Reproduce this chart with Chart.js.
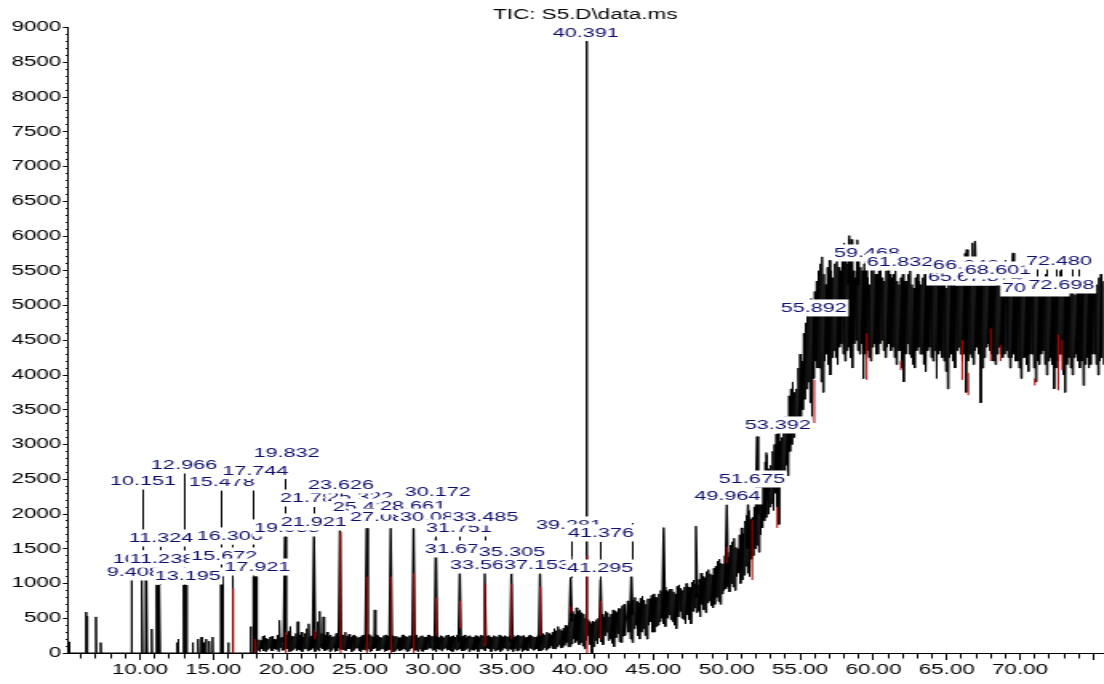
<!DOCTYPE html>
<html>
<head>
<meta charset="utf-8">
<title>TIC: S5.D\data.ms</title>
<script src="https://cdn.jsdelivr.net/npm/chart.js@4.4.1/dist/chart.umd.min.js"></script>
<style>
  html, body { margin: 0; padding: 0; background: #fff; overflow: hidden; }
</style>
</head>
<body>
<!-- the export is stretched sideways, so draw narrow and widen with css -->
<canvas id="tic" width="690" height="684" style="width:1104px;height:684px;"></canvas>
<script>
// early part: isolated spikes on a zero baseline (minutes, abundance)
var earlyTimes   = [5.15, 6.32, 6.40, 7.00, 7.32, 9.43, 10.09, 10.16, 10.40, 10.47, 10.80,
                    11.13, 11.18, 11.24, 11.30, 11.36, 12.54, 12.62, 12.98, 13.05, 13.18,
                    13.60, 13.96, 14.20, 14.36, 14.50, 14.72, 14.95, 15.52, 15.60, 15.67,
                    16.02, 16.32, 17.55, 17.72, 17.84, 17.95];
var earlyHeights = [160, 590, 530, 520, 150, 1050, 1050, 1050, 1050, 1050, 345,
                    980, 980, 980, 980, 980, 150, 200, 980, 980, 980,
                    150, 200, 230, 150, 200, 170, 230, 1150, 1120, 1100,
                    150, 1080, 380, 1100, 1100, 1100];

// low noisy baseline 18.000 - 43.000 min, one high/low pair every 0.125 min
var baseStart = 18.0, baseStep = 0.125;
var baseHigh = [
  220, 190, 180, 240, 250, 210, 200, 230,   // 18
  240, 200, 190, 260, 470, 220, 230, 250,   // 19
  260, 310, 380, 240, 240, 280, 450, 260,   // 20
  300, 230, 280, 350, 420, 240, 250, 300,   // 21
  230, 450, 600, 280, 520, 260, 300, 240,   // 22
  260, 230, 240, 280, 280, 250, 220, 260,   // 23
  300, 240, 270, 230, 250, 260, 240, 220,   // 24
  230, 250, 260, 240, 240, 270, 250, 230,   // 25
  620, 260, 240, 230, 220, 250, 260, 240,   // 26
  230, 250, 250, 240, 240, 220, 220, 260,   // 27
  260, 240, 230, 250, 250, 230, 240, 260,   // 28
  220, 240, 250, 230, 230, 260, 260, 240,   // 29
  240, 250, 230, 220, 250, 240, 220, 250,   // 30
  260, 230, 240, 250, 230, 260, 250, 230,   // 31
  240, 260, 220, 240, 250, 230, 230, 250,   // 32
  240, 220, 260, 250, 230, 240, 250, 230,   // 33
  220, 250, 240, 230, 260, 240, 230, 250,   // 34
  240, 230, 250, 260, 230, 240, 260, 250,   // 35
  240, 250, 220, 230, 250, 260, 240, 230,   // 36
  230, 250, 260, 240, 280, 260, 300, 280,   // 37
  260, 300, 350, 320, 380, 340, 320, 360,   // 38
  400, 380, 450, 500, 600, 560, 650, 600,   // 39
  620, 580, 560, 500, 480, 450, 420, 460,   // 40
  450, 480, 500, 540, 560, 520, 600, 580,   // 41
  520, 560, 620, 600, 580, 640, 640, 680,   // 42
  700];
var baseLow = [
  40, 20, 60, 30, 20, 50, 70, 30,
  30, 60, 50, 20, 80, 40, 40, 60,
  60, 20, 30, 50, 70, 30, 50, 40,
  20, 60, 60, 30, 40, 50, 70, 20,
  50, 30, 80, 60, 30, 40, 60, 20,
  40, 70, 20, 30, 70, 50, 50, 40,
  30, 60, 60, 20, 40, 70, 70, 30,
  20, 50, 50, 30, 60, 20, 30, 60,
  70, 30, 40, 60, 60, 20, 30, 50,
  50, 20, 20, 40, 60, 30, 40, 60,
  50, 20, 30, 60, 70, 40, 40, 20,
  60, 30, 20, 50, 50, 70, 70, 40,
  40, 20, 60, 50, 30, 60, 70, 40,
  50, 30, 20, 60, 40, 50, 60, 30,
  30, 50, 70, 20, 50, 40, 40, 60,
  20, 60, 60, 40, 30, 70, 60, 20,
  60, 30, 40, 50, 20, 40, 70, 60,
  30, 60, 50, 20, 60, 30, 40, 70,
  20, 40, 50, 30, 70, 60, 40, 50,
  60, 30, 30, 50, 80, 40, 60, 70,
  100, 60, 60, 90, 120, 70, 80, 110,
  150, 90, 90, 130, 200, 150, 180, 120,
  150, 100, 60, 180, 250, 120, 0, 90,
  180, 130, 220, 160, 120, 250, 300, 180,
  200, 140, 90, 220, 280, 160, 150, 240,
  250];

// rising hump and plateau 43.250 - 75.750 min, one high/low pair every 0.125 min
var riseStart = 43.25, riseStep = 0.125;
var riseHigh = [
  750, 700, 680, 760, 800, 740, 720, 790,           // 43.25
  820, 760, 700, 780, 780, 830, 850, 800,           // 44.25
  800, 850, 900, 870, 950, 900, 880, 920,           // 45.25
  920, 880, 850, 960, 980, 930, 900, 950,           // 46.25
  1000, 950, 940, 1020, 1050, 990, 980, 1060,       // 47.25
  1150, 1100, 1080, 1170, 1200, 1140, 1120, 1220,   // 48.25
  1250, 1320, 1350, 1290, 1280, 1400, 1450, 1380,   // 49.25
  1550, 1600, 1650, 1520, 1500, 1700, 1800, 1720,   // 50.25
  1900, 1980, 2050, 1920, 1950, 2100, 2150, 2250,   // 51.25
  2400, 2500, 2600, 2750, 2850, 2650, 2700, 2900,   // 52.25
  3000, 3150, 3200, 3050, 3100, 3300, 3400, 3350,   // 53.25
  3700, 3800, 3900, 3750, 3800, 4100, 4300, 4200,   // 54.25
  4600, 4750, 4900, 5000, 5100, 5050, 5200, 5350,   // 55.25
  5500, 5600, 5700, 5450, 5300, 5550, 5650, 5500,   // 56.25
  5400, 5600, 5750, 5550, 5500, 5700, 5900, 5650,   // 57.25
  5600, 5800, 5950, 5500, 5400, 5650, 5700, 5550,   // 58.25
  5500, 5600, 5650, 5400, 5300, 5550, 5600, 5450,   // 59.25
  5450, 5500, 5550, 5400, 5350, 5500, 5600, 5450,   // 60.25
  5400, 5450, 5500, 5350, 5300, 5400, 5450, 5350,   // 61.25
  5350, 5450, 5500, 5300, 5250, 5400, 5450, 5350,   // 62.25
  5300, 5400, 5450, 5350, 5350, 5300, 5400, 5450,   // 63.25
  5450, 5350, 5300, 5400, 5400, 5300, 5250, 5350,   // 64.25
  5400, 5300, 5350, 5450, 5500, 5400, 5300, 5350,   // 65.25
  5750, 5500, 5450, 5600, 5900, 5550, 5400, 5450,   // 66.25
  5350, 5450, 5500, 5350, 5300, 5400, 5400, 5300,   // 67.25
  5450, 5350, 5300, 5400, 5400, 5500, 5650, 5400,   // 68.25
  5300, 5250, 5250, 5350, 5350, 5250, 5200, 5300,   // 69.25
  5250, 5200, 5150, 5250, 5300, 5200, 5200, 5250,   // 70.25
  5350, 5250, 5200, 5300, 5450, 5300, 5250, 5200,   // 71.25
  5400, 5300, 5200, 5350, 5500, 5300, 5250, 5350,   // 72.25
  5200, 5300, 5350, 5200, 5150, 5250, 5300, 5200,   // 73.25
  5250, 5300, 5350, 5250, 5200, 5300, 5400, 5300,   // 74.25
  5300, 5400, 5450, 5350, 5300];                    // 75.25
var riseLow = [
  300, 200, 150, 350, 400, 250, 200, 300,
  350, 250, 200, 400, 450, 300, 300, 380,
  400, 450, 500, 420, 380, 500, 550, 480,
  450, 400, 350, 520, 600, 500, 480, 420,
  550, 480, 420, 600, 650, 580, 600, 520,
  700, 620, 580, 720, 750, 680, 650, 700,
  800, 740, 700, 850, 900, 920, 950, 880,
  1000, 950, 900, 1100, 1150, 1000, 1050, 1120,
  1250, 1150, 1100, 1350, 1400, 1500, 1550, 1450,
  1700, 1800, 1900, 1950, 2000, 2100, 2150, 2050,
  2300, 2100, 1850, 2400, 2500, 2600, 2700, 2550,
  2900, 3000, 3100, 3200, 3300, 3250, 3400, 3500,
  3650, 3800, 3900, 3600, 3350, 3950, 4200, 4100,
  4100, 3900, 3750, 4200, 4300, 4150, 4000, 4250,
  4350, 4250, 4150, 4400, 4450, 4300, 4200, 4350,
  4400, 4250, 4100, 4450, 4500, 4350, 4300, 4450,
  3950, 4300, 4350, 4250, 4200, 4400, 4450, 4300,
  4300, 4450, 4500, 4350, 4250, 4400, 4450, 4350,
  4400, 4250, 4150, 4350, 4350, 4100, 3900, 4300,
  4450, 4300, 4250, 4150, 4100, 4350, 4400, 4300,
  4300, 4150, 4050, 4350, 4400, 4250, 4200, 4350,
  3950, 4300, 4350, 4250, 4200, 4050, 3800, 4250,
  4300, 4200, 4100, 4350, 4400, 4300, 4200, 4300,
  3750, 4200, 4300, 4250, 4150, 4350, 4400, 4300,
  3600, 4100, 4250, 4400, 4450, 4350, 4300, 4200,
  4150, 4300, 4400, 4300, 4250, 4300, 4350, 4250,
  4100, 4250, 4300, 4200, 4200, 4100, 3950, 4250,
  4250, 4150, 4050, 4300, 4300, 4100, 3900, 4200,
  4150, 4300, 4350, 4150, 4000, 4200, 4250, 4150,
  3800, 4100, 4200, 4300, 4300, 4000, 3750, 4150,
  4250, 4100, 4000, 4250, 4300, 4200, 4100, 4200,
  3850, 4150, 4250, 4100, 4150, 4300, 4300, 4150,
  4000, 4200, 4250, 4150, 4100];

// peaks standing on the baseline
var peakTimes = [19.88, 21.86, 23.63, 25.45, 27.09, 28.65, 30.17, 31.80, 33.50, 35.32, 37.27,
                 39.36, 40.44, 41.40, 43.50, 45.70, 47.90, 50.00, 51.45, 52.06, 52.70,
                 58.35, 58.90, 66.35, 66.92, 69.50];
var peakTops  = [1670, 1700, 1770, 1790, 1790, 1790, 1650, 1150, 1150, 1140, 1140,
                 1080, 8800, 1050, 1150, 1800, 1820, 2130, 2140, 3110, 2880,
                 6000, 5940, 5800, 5920, 5750];
var peakFeet  = [150, 150, 150, 150, 150, 150, 150, 150, 150, 150, 150,
                 450, 350, 350, 550, 700, 800, 1150, 1500, 2000, 2200,
                 5300, 5300, 5300, 5300, 5200];

// red integration marks
var markTimes = [16.35, 17.84, 19.95, 21.93, 23.68, 25.47, 27.11, 28.67, 30.20, 31.82,
                 33.52, 35.33, 37.29, 39.38, 40.48, 41.38, 50.00, 51.74, 53.44, 55.97,
                 59.54, 61.87, 66.05, 66.46, 68.00, 68.67, 71.00, 72.60, 72.87];
var markFrom  = [0, 0, 0, 200, 0, 0, 0, 0, 250, 350,
                 100, 200, 250, 575, 0, 200, 1290, 1050, 1800, 3310,
                 3930, 4070, 3930, 3710, 4200, 4200, 3850, 3780, 4070];
var markTo    = [930, 200, 300, 320, 1740, 1100, 1100, 1150, 800, 750,
                 1000, 1000, 950, 670, 1400, 750, 1530, 1914, 2105, 3930,
                 4600, 4200, 4500, 4030, 4670, 4430, 3950, 4580, 4500];

// retention time labels, in drawing order (centre in minutes / abundance)
var labelTexts  = ['9.408', '10.151', '10.418', '11.238', '11.324', '12.966', '13.195', '15.478',
                   '15.672', '16.306', '17.744', '17.921', '19.832', '19.938', '21.785', '21.921',
                   '25.322', '23.626', '25.412', '27.085', '28.661', '30.086', '30.172', '31.673',
                   '31.751', '33.485', '33.563', '35.305', '37.153', '39.281', '40.391', '41.295',
                   '41.376', '49.964', '51.675', '53.392', '55.892', '59.468', '61.832', '65.508',
                   '66.243', '67.874', '68.601', '70.452', '72.480', '72.698'];
var labelTimes  = [9.59, 10.2, 10.41, 11.5, 11.43, 13.0, 13.27, 15.57,
                   15.73, 16.13, 17.87, 18.0, 20.0, 20.02, 21.8, 21.86,
                   25.0, 23.7, 25.4, 26.56, 28.61, 29.97, 30.31, 31.68,
                   31.75, 33.55, 33.38, 35.36, 37.06, 39.24, 40.4, 41.36,
                   41.42, 50.05, 51.72, 53.49, 55.94, 59.56, 61.81, 65.97,
                   66.31, 67.94, 68.49, 71.01, 72.65, 72.82];
var labelLevels = [1166, 2475, 1353, 1353, 1655, 2705, 1108, 2460,
                   1396, 1684, 2626, 1237, 2878, 1799, 2230, 1885,
                   2245, 2417, 2100, 1957, 2115, 1957, 2324, 1497,
                   1799, 1957, 1266, 1458, 1266, 1842, 8929, 1223,
                   1727, 2260, 2504, 3281, 4965, 5756, 5626, 5410,
                   5583, 5410, 5511, 5252, 5641, 5295];

// leader lines from labels down to their peaks
var leaderTimes = [10.15, 12.97, 15.50, 17.72, 19.88, 21.86, 23.63, 30.17, 31.80, 33.50,
                   35.32, 39.36, 41.40, 43.50, 11.32, 16.32,
                   71.12, 71.80, 72.48, 72.82, 73.50, 73.95];
var leaderFrom  = [2360, 2590, 2340, 2500, 2750, 2100, 2280, 2200, 1680, 1830,
                   1340, 1720, 1600, 1870, 1530, 1560,
                   5560, 5560, 5560, 5560, 5560, 5560];
var leaderTo    = [1050, 980, 1150, 1100, 1670, 1700, 1770, 1650, 1150, 1150,
                   1140, 1080, 1050, 1150, 980, 1080,
                   5300, 5300, 5300, 5300, 5300, 5300];

var FONT = '"Liberation Sans", Arial, sans-serif';

// build the trace
var trace = [];
for (var i = 0; i < earlyTimes.length; i++) {
  trace.push({x: earlyTimes[i] - 0.025, y: 0});
  trace.push({x: earlyTimes[i], y: earlyHeights[i]});
  trace.push({x: earlyTimes[i] + 0.025, y: 0});
}
for (var i = 0; i < baseHigh.length; i++) {
  var t = baseStart + i * baseStep;
  trace.push({x: t, y: baseHigh[i]});
  trace.push({x: t + baseStep / 2, y: baseLow[i]});
}
for (var i = 0; i < riseHigh.length; i++) {
  var t = riseStart + i * riseStep;
  trace.push({x: t, y: riseHigh[i]});
  trace.push({x: t + riseStep / 2, y: riseLow[i]});
}

var peakPts = [];
for (var i = 0; i < peakTimes.length; i++) {
  var w = peakTimes[i] === 40.44 ? 0.04 : 0.09;
  peakPts.push({x: peakTimes[i] - w, y: peakFeet[i]});
  peakPts.push({x: peakTimes[i], y: peakTops[i]});
  peakPts.push({x: peakTimes[i] + w, y: peakFeet[i]});
  peakPts.push({x: peakTimes[i] + w + 0.001, y: null});
}

var markPts = [];
for (var i = 0; i < markTimes.length; i++) {
  markPts.push({x: markTimes[i], y: markFrom[i]});
  markPts.push({x: markTimes[i], y: markTo[i]});
  markPts.push({x: markTimes[i] + 0.001, y: null});
}

var tagPlugin = {
  id: 'peakTags',
  afterDatasetsDraw: function(chart) {
    var c = chart.ctx, area = chart.chartArea;
    var xs = chart.scales.x, ys = chart.scales.y;
    c.save();
    c.beginPath();
    c.rect(area.left, 0, area.right - area.left, area.bottom);
    c.clip();

    c.strokeStyle = '#000';
    c.lineWidth = 1;
    for (var i = 0; i < leaderTimes.length; i++) {
      var px = Math.round(xs.getPixelForValue(leaderTimes[i])) + 0.5;
      c.beginPath();
      c.moveTo(px, ys.getPixelForValue(leaderFrom[i]));
      c.lineTo(px, ys.getPixelForValue(leaderTo[i]));
      c.stroke();
    }

    c.font = '13.5px ' + FONT;
    c.textAlign = 'center';
    c.textBaseline = 'middle';
    for (var i = 0; i < labelTexts.length; i++) {
      var cx = xs.getPixelForValue(labelTimes[i]);
      var cy = ys.getPixelForValue(labelLevels[i]);
      var w = c.measureText(labelTexts[i]).width + 2;
      c.fillStyle = '#fff';
      c.fillRect(cx - w / 2, cy - 8.5, w, 17);
      c.fillStyle = '#0e0e6e';
      c.fillText(labelTexts[i], cx, cy + 0.5);
    }
    c.restore();

    c.save();
    c.font = '14px ' + FONT;
    c.fillStyle = '#000';
    c.textAlign = 'center';
    c.textBaseline = 'middle';
    c.fillText('TIC: S5.D\\data.ms', (area.left + area.right) / 2, 15);
    c.restore();
  }
};

var ctx = document.getElementById('tic');

new Chart(ctx, {
  type: 'line',
  data: {
    datasets: [
      { data: markPts, borderColor: '#b00000', borderWidth: 1, pointRadius: 0, spanGaps: false },
      { data: peakPts, borderColor: '#000', borderWidth: 1.4, pointRadius: 0, spanGaps: false },
      { data: trace, borderColor: '#000', borderWidth: 1, pointRadius: 0 }
    ]
  },
  options: {
    responsive: false,
    animation: false,
    devicePixelRatio: 1,
    layout: { padding: { top: 27.5, right: 0.6, bottom: 0, left: 0 } },
    elements: { line: { tension: 0, borderJoinStyle: 'round', fill: false } },
    plugins: { legend: { display: false }, tooltip: { enabled: false }, title: { display: false } },
    scales: {
      x: {
        type: 'linear', min: 5.07, max: 75.65,
        border: { display: true, color: '#000', width: 1 },
        grid: {
          drawOnChartArea: false, drawTicks: true, tickLength: 7, tickColor: '#000', tickWidth: 1,
          tickBorderDash: function(c) { return Math.round(c.tick.value) % 5 === 0 ? [] : [4.5, 50]; }
        },
        ticks: {
          stepSize: 1, includeBounds: false, autoSkip: false, maxTicksLimit: 1000,
          maxRotation: 0, minRotation: 0, padding: 2, color: '#000',
          font: { family: FONT, size: 14 },
          callback: function(v) {
            var r = Math.round(v);
            return (Math.abs(v - r) < 1e-6 && r % 5 === 0 && r >= 10 && r <= 70) ? r.toFixed(2) : '';
          }
        },
        afterFit: function(s) { s.height = 31; }
      },
      y: {
        min: 0, max: 9000,
        border: { display: true, color: '#000', width: 1 },
        grid: {
          drawOnChartArea: false, drawTicks: true, tickLength: 3, tickColor: '#000', tickWidth: 1,
          tickBorderDash: function(c) { return Math.round(c.tick.value) % 500 === 0 ? [] : [0, 1.8, 1.2, 50]; }
        },
        ticks: {
          stepSize: 100, autoSkip: false, maxTicksLimit: 1000, padding: 1, color: '#000',
          font: { family: FONT, size: 14 },
          callback: function(v) { return Math.round(v) % 500 === 0 ? String(Math.round(v)) : ''; }
        },
        afterFit: function(s) { s.width = 42.3; }
      }
    }
  },
  plugins: [tagPlugin]
});
</script>
</body>
</html>
